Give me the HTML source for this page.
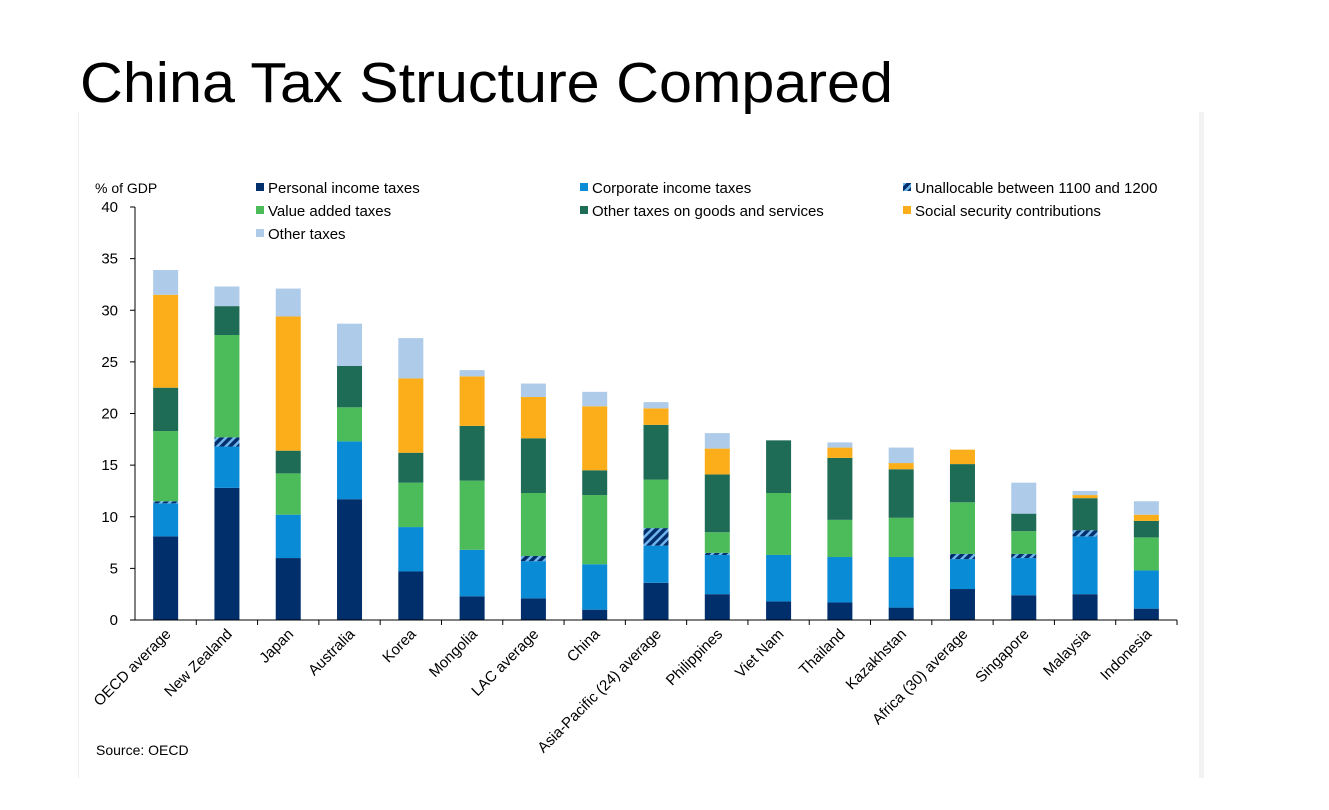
<!DOCTYPE html>
<html><head><meta charset="utf-8"><style>
html,body{margin:0;padding:0;background:#fff;width:1329px;height:810px;overflow:hidden;font-family:"Liberation Sans",sans-serif}
</style></head><body>
<svg width="1329" height="810" xmlns="http://www.w3.org/2000/svg">
<defs>
<pattern id="hatch" patternUnits="userSpaceOnUse" width="6" height="6" patternTransform="rotate(45)">
<rect width="6" height="6" fill="#002f6c"/><rect width="2.5" height="6" fill="#6fb4ea"/>
</pattern>
</defs>
<text x="80" y="102" font-size="57" textLength="813" lengthAdjust="spacingAndGlyphs" fill="#000">China Tax Structure Compared</text>
<line x1="78.5" y1="112" x2="78.5" y2="778" stroke="#eee"/>
<rect x="1199" y="112" width="5" height="666" fill="#f2f2f2"/>
<text x="95" y="193" font-size="14" fill="#000">% of GDP</text>
<g id="legend"></g>
<g id="yaxis"></g>
<g id="bars"></g>
<g id="xaxis"></g>
<text x="96" y="755" font-size="14" fill="#000">Source: OECD</text>
</svg>
<script>
const categories=["OECD average","New Zealand","Japan","Australia","Korea","Mongolia","LAC average","China","Asia-Pacific (24) average","Philippines","Viet Nam","Thailand","Kazakhstan","Africa (30) average","Singapore","Malaysia","Indonesia"];
const personalIncome=[8.1,12.8,6.0,11.7,4.7,2.3,2.1,1.0,3.6,2.5,1.8,1.7,1.2,3.0,2.4,2.5,1.1];
const corporateIncome=[3.2,4.0,4.2,5.6,4.3,4.5,3.6,4.4,3.6,3.8,4.5,4.4,4.9,2.9,3.6,5.6,3.7];
const unallocable=[0.2,0.9,0,0,0,0,0.5,0,1.7,0.2,0,0,0,0.5,0.4,0.6,0];
const valueAdded=[6.8,9.9,4.0,3.3,4.3,6.7,6.1,6.7,4.7,2.0,6.0,3.6,3.8,5.0,2.2,0,3.2];
const otherGoods=[4.2,2.8,2.2,4.0,2.9,5.3,5.3,2.4,5.3,5.6,5.1,6.0,4.7,3.7,1.7,3.1,1.6];
const socialSecurity=[9.0,0,13.0,0,7.2,4.8,4.0,6.2,1.6,2.5,0,1.0,0.6,1.4,0,0.3,0.6];
const otherTaxes=[2.4,1.9,2.7,4.1,3.9,0.6,1.3,1.4,0.6,1.5,0,0.5,1.5,0,3.0,0.4,1.3];
const yTicks=[0,5,10,15,20,25,30,35,40];
const seriesNames=["Personal income taxes","Corporate income taxes","Unallocable between 1100 and 1200","Value added taxes","Other taxes on goods and services","Social security contributions","Other taxes"];
const series=[personalIncome,corporateIncome,unallocable,valueAdded,otherGoods,socialSecurity,otherTaxes];
const fills=["#002f6c","#0a8bd6","url(#hatch)","#4cbb5a","#1e6b56","#fbae1a","#aecbea"];
const NS="http://www.w3.org/2000/svg";
const x0=135,x1=1177,y0=620,yTop=207,yMax=40;
const step=(x1-x0)/categories.length,bw=25;
const yS=v=>y0-(y0-yTop)*v/yMax;
const xC=i=>x0+step*(i+0.5);
function mk(t,a,p){const e=document.createElementNS(NS,t);for(const k in a)e.setAttribute(k,a[k]);p.appendChild(e);return e;}
const ya=document.getElementById('yaxis');
mk('line',{x1:x0,y1:yTop,x2:x0,y2:y0,stroke:'#000','stroke-width':1},ya);
yTicks.forEach(v=>{
 const l=mk('line',{x1:x0-5,y1:yS(v),x2:x0,y2:yS(v),stroke:'#000'},ya);
 
 
 const t=mk('text',{x:x0-17,y:yS(v)+5,'font-size':15,'text-anchor':'end'},ya);
 t.textContent=v;
 
 
});
const xa=document.getElementById('xaxis');
mk('line',{x1:x0,y1:y0,x2:x1,y2:y0,stroke:'#000'},xa);
categories.forEach((c,i)=>{
 const l=mk('line',{x1:x0+step*(i+1),y1:y0,x2:x0+step*(i+1),y2:y0+5,stroke:'#000'},xa);
 
 
 const tx=xC(i)+6,ty=y0+15;
 const t=mk('text',{x:tx,y:ty,'font-size':15,'text-anchor':'end',transform:`rotate(-45 ${tx} ${ty})`},xa);
 t.textContent=c;
 
 
});
const bg=document.getElementById('bars');
categories.forEach((c,i)=>{
 let cum=0;
 series.forEach((s,k)=>{
  const v=s[i];if(!v)return;
  const r=mk('rect',{x:xC(i)-bw/2,y:yS(cum+v),width:bw,height:yS(cum)-yS(cum+v),fill:fills[k]},bg);
  
  
  cum+=v;
 });
});
const lg=document.getElementById('legend');
const lx=[256,580,903],ly=[193,216,239];
seriesNames.forEach((n,k)=>{
 const x=lx[k%3],y=ly[Math.floor(k/3)];
 const r=mk('rect',{x:x,y:y-10,width:8,height:8,fill:fills[k]},lg);
 
 
 const t=mk('text',{x:x+12,y:y,'font-size':15},lg);
 t.textContent=n;
 
 
});
</script>
</body></html>
